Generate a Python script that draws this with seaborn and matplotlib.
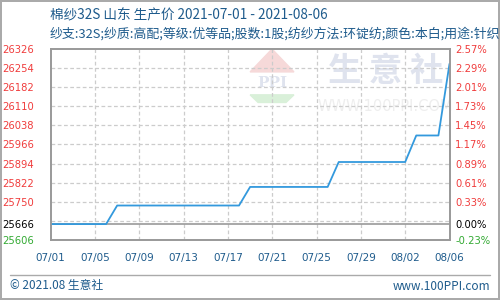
import matplotlib
matplotlib.use("Agg")
import matplotlib.pyplot as plt
import seaborn as sns
import pandas as pd
import numpy as np
from matplotlib.lines import Line2D
import matplotlib.dates as mdates

sns.set_theme(style="white")
plt.rcParams['font.family'] = ['Noto Sans CJK SC', 'DejaVu Sans']

# ---- data ----
dates = pd.date_range("2021-07-01", "2021-08-06", freq="D")
prices = [25666, 25666, 25666, 25666, 25666, 25666,
          25736, 25736, 25736, 25736, 25736, 25736, 25736, 25736, 25736, 25736, 25736, 25736,
          25806, 25806, 25806, 25806, 25806, 25806, 25806, 25806,
          25900, 25900, 25900, 25900, 25900, 25900, 25900,
          26000, 26000, 26000,
          26270]
base_price = 25666
y_min, y_max = 25606, 26326
left_ticks = [25606, 25666, 25750, 25822, 25894, 25966, 26038, 26110, 26182, 26254, 26326]
grid_levels = [25678, 25750, 25822, 25894, 25966, 26038, 26110, 26182, 26254]
right_labels = ["-0.23%", "0.00%", "0.33%", "0.61%", "0.89%", "1.17%", "1.45%",
                "1.73%", "2.01%", "2.29%", "2.57%"]
x_tick_labels = ["07/01", "07/05", "07/09", "07/13", "07/17", "07/21",
                 "07/25", "07/29", "08/02", "08/06"]
title = "棉纱32S 山东 生产价 2021-07-01 - 2021-08-06"
subtitle = "纱支:32S;纱质:高配;等级:优等品;股数:1股;纺纱方法:环锭纺;颜色:本白;用途:针织"

df = pd.DataFrame({"date": dates, "price": prices})

RED = "#f03c3c"
GREEN = "#33aa33"
BLUE_TXT = "#1e5b8c"
FRAME = "#999999"

fig = plt.figure(figsize=(5, 3), dpi=100, facecolor="white",
                 linewidth=1.5, edgecolor="#aaaaaa")
ax = fig.add_axes([0.1014, 0.2, 0.7976, 0.6367])

# watermark
ax.text(0.84, 0.88, "生 意 社", transform=ax.transAxes, ha="center", va="center",
        fontsize=24, color="#dfe3ee", fontweight="bold", zorder=0)
ax.text(0.84, 0.70, "WWW.100PPI.COM", transform=ax.transAxes, ha="center", va="center",
        fontsize=10.5, color="#eeeeee", zorder=0, family="DejaVu Sans")
ax.fill([0.50, 0.555, 0.61], [0.88, 1.0, 0.88], transform=ax.transAxes,
        color="#f6d9d9", zorder=0)
ax.text(0.555, 0.82, "PPI", transform=ax.transAxes, ha="center", va="center",
        fontsize=11, color="#dfe3ee", fontweight="bold", zorder=0, family="DejaVu Serif")
ax.fill([0.50, 0.61, 0.59, 0.52], [0.76, 0.76, 0.72, 0.72], transform=ax.transAxes,
        color="#d9f0d9", zorder=0)

# grid
for g in grid_levels:
    ax.axhline(g, color="#cccccc", lw=0.9, ls=(0, (3, 2)), zorder=1)
xt = pd.date_range("2021-07-01", "2021-08-06", freq="4D")
for d in xt[1:-1]:
    ax.axvline(d, color="#cccccc", lw=0.9, ls=(0, (3, 2)), zorder=1)
ax.axhline(base_price, color="#999999", lw=1.2, zorder=2)

sns.lineplot(data=df, x="date", y="price", ax=ax, color="#3399dd", lw=1.3, zorder=3)

ax.set_xlim(dates[0], dates[-1])
ax.set_ylim(y_min, y_max)
ax.set_xlabel("")
ax.set_ylabel("")
ax.set_xticks(xt)
ax.set_xticklabels(x_tick_labels, color=BLUE_TXT, fontsize=7.5, family="DejaVu Sans")
ax.set_yticks(left_ticks)
ax.set_yticklabels([str(v) for v in left_ticks], fontsize=7.2, family="DejaVu Sans")
ax.tick_params(axis="x", length=0, pad=9)
ax.tick_params(axis="y", length=0, pad=12)
for lbl, v in zip(ax.get_yticklabels(), left_ticks):
    lbl.set_color(GREEN if v < base_price else ("black" if v == base_price else RED))
for s in ax.spines.values():
    s.set_color(FRAME)
    s.set_linewidth(1.2)

ax2 = ax.twinx()
ax2.set_ylim(y_min, y_max)
ax2.set_yticks(left_ticks)
ax2.set_yticklabels(right_labels, fontsize=7.2, family="DejaVu Sans")
ax2.tick_params(axis="y", length=0, pad=4)
for lbl, v in zip(ax2.get_yticklabels(), left_ticks):
    lbl.set_color(GREEN if v < base_price else ("black" if v == base_price else RED))
for s in ax2.spines.values():
    s.set_color(FRAME)
    s.set_linewidth(1.2)
ax2.grid(False)

fig.text(0.1, 1 - 15 / 300, title, ha="left", va="center", fontsize=9.8, color=BLUE_TXT)
fig.text(0.1, 1 - 34 / 300, subtitle, ha="left", va="center", fontsize=9.3, color=BLUE_TXT)

fig.add_artist(Line2D([10 / 500, 490 / 500], [1 - 275 / 300, 1 - 275 / 300],
                      color="#aaaaaa", lw=1, transform=fig.transFigure))
fig.text(10 / 500, 1 - 286 / 300, "© 2021.08 生意社", ha="left", va="center",
         fontsize=8.5, color=BLUE_TXT)
fig.text(490 / 500, 1 - 286 / 300, "www.100PPI.com", ha="right", va="center",
         fontsize=8.5, color=BLUE_TXT)

fig.savefig("out.png", dpi=100, facecolor="white", edgecolor="#aaaaaa")
